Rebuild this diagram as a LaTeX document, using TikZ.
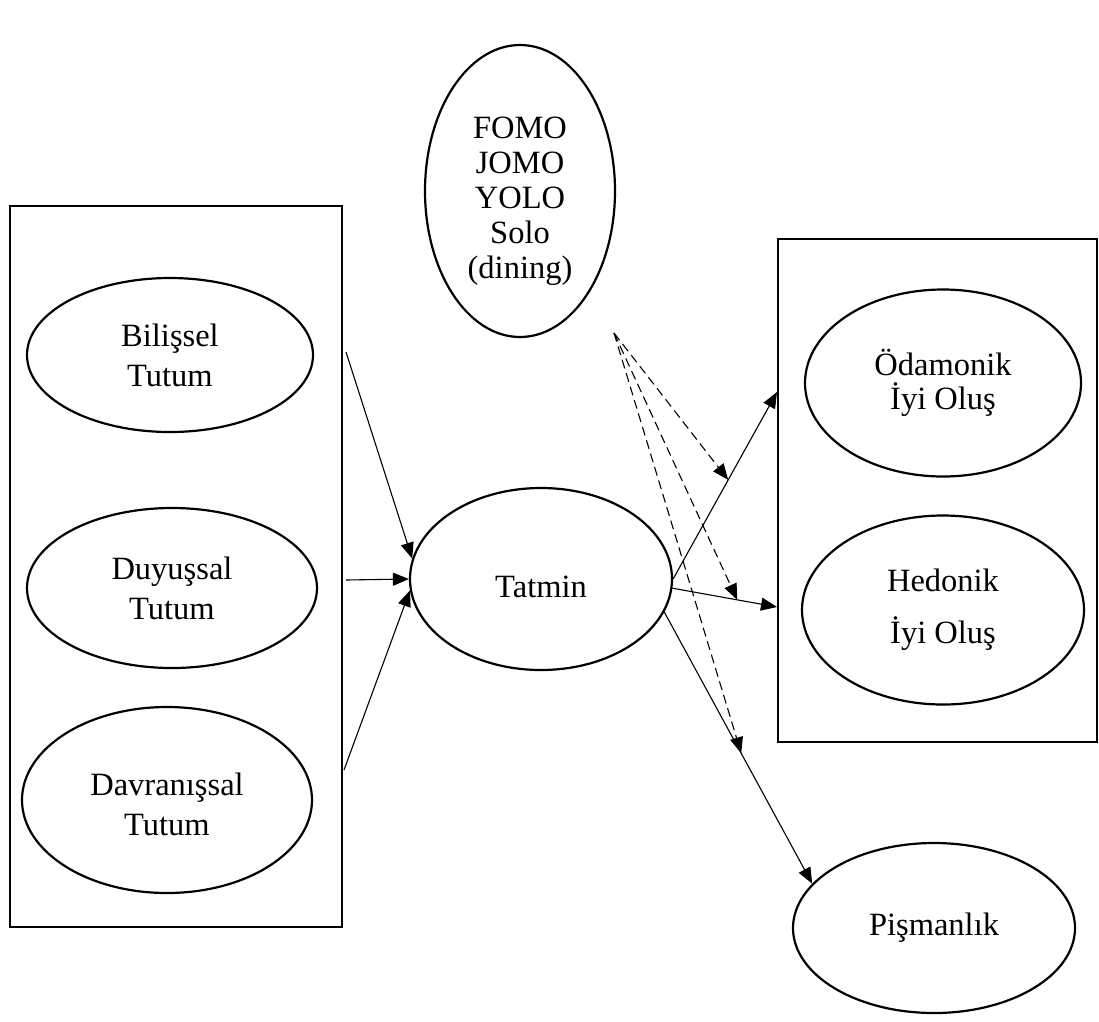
\documentclass[tikz,border=0pt]{standalone}
\usepackage{fontspec}
\setmainfont{Liberation Serif}
\usetikzlibrary{arrows.meta,shapes.geometric}
\newcommand{\ovaltext}[2]{\raisebox{#1}[\height][\depth]{\begin{tabular}{@{}c@{}}#2\end{tabular}}}
\begin{document}
\begin{tikzpicture}[x=1pt,y=-1pt,
  oval/.style={draw,line width=2.2pt,ellipse,inner sep=0pt,align=center,
    font=\fontsize{32.5}{40}\selectfont},
  frame/.style={draw,line width=2.4pt},
  conn/.style={line width=1.1pt,-{Triangle[length=16pt,width=13pt]}},
  modconn/.style={conn,dash pattern=on 9pt off 5pt}]
\useasboundingbox (0,0) rectangle (1099,1021);
% group frames
\draw[frame] (10,206) rectangle (342,927);
\draw[frame] (778,239) rectangle (1097,742);
% nodes
\node[oval,minimum width=286pt,minimum height=154pt] (bil) at (170,355) {Bilişsel\\Tutum};
\node[oval,minimum width=290pt,minimum height=160pt] (duy) at (172,588) {Duyuşsal\\Tutum};
\node[oval,minimum width=290pt,minimum height=186pt,font=\fontsize{32.5}{40}\selectfont] (dav) at (167,800) {\ovaltext{-7pt}{Davranışsal\\Tutum}};
\node[oval,minimum width=262pt,minimum height=182pt] (tat) at (541,579) {\raisebox{-8pt}[\height][\depth]{Tatmin}};
\node[oval,minimum width=190pt,minimum height=292pt,font=\fontsize{32.5}{35}\selectfont] (fomo) at (520,191) {\ovaltext{-10pt}{FOMO\\JOMO\\YOLO\\Solo\\(dining)}};
\node[oval,minimum width=276pt,minimum height=187pt,font=\fontsize{32.5}{34}\selectfont] (oda) at (943,383) {Ödamonik\\İyi Oluş};
\node[oval,minimum width=282pt,minimum height=189pt,font=\fontsize{32.5}{52}\selectfont] (hed) at (943,610) {Hedonik\\İyi Oluş};
\node[oval,minimum width=282pt,minimum height=170pt] (pis) at (934,928) {Pişmanlık};
% free ends
\coordinate (s1) at (346,352);
\coordinate (s2) at (346,580);
\coordinate (s3) at (344,770);
\coordinate (e1) at (777,392);
\coordinate (e2) at (777,607);
\coordinate (f) at (614,333);
% connectors into Tatmin
\draw[conn] (s1) -- (tat.171);
\draw[conn] (s2) -- (tat.west);
\draw[conn] (s3) -- (tat.185);
% connectors out of Tatmin
\draw[conn] (tat.east) -- (e1) coordinate[pos=0.53] (m1);
\draw[conn] (tat.-4) -- (e2) coordinate[pos=0.62] (m2);
\draw[conn] (tat.-15) -- (pis.160) coordinate[pos=0.52] (m3);
% moderating connectors
\draw[modconn] (f) -- (m1);
\draw[modconn] (f) -- (m2);
\draw[modconn] (f) -- (m3);
\end{tikzpicture}
\end{document}
